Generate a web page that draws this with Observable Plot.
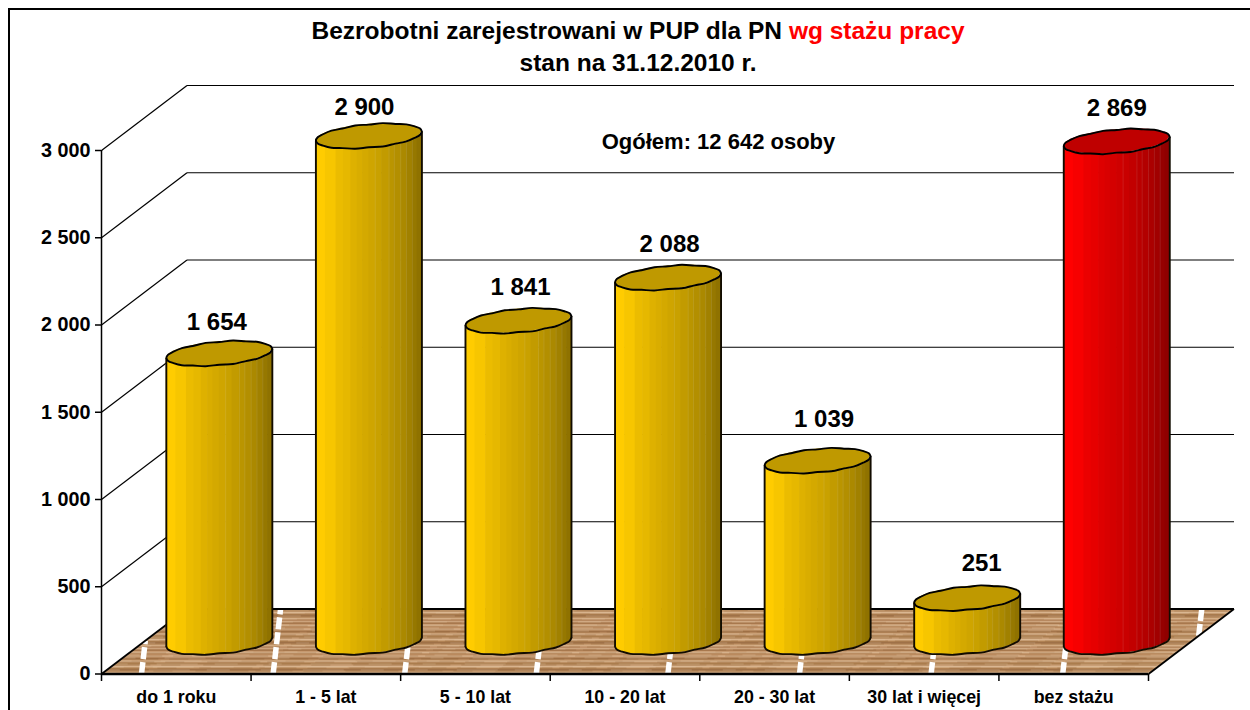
<!DOCTYPE html>
<html lang="pl">
<head>
<meta charset="utf-8">
<title>Bezrobotni zarejestrowani w PUP dla PN wg stażu pracy</title>
<script src="https://cdn.jsdelivr.net/npm/d3@7"></script>
<script src="https://cdn.jsdelivr.net/npm/@observablehq/plot@0.6"></script>
<style>
  html, body { margin: 0; padding: 0; background: #fff; overflow: hidden; }
  #page { position: relative; width: 1250px; height: 710px; font-family: "Liberation Sans", Arial, sans-serif; }
  #page svg { position: absolute; left: 0; top: 0; display: block; }
  #frame { position: absolute; left: 8px; top: 8px; right: -10px; bottom: -10px; border-left: 2.5px solid #000; border-top: 2.5px solid #000; }
  #title { position: absolute; left: 0; width: 1276px; top: 15px; text-align: center; font-weight: bold; font-size: 24.5px; line-height: 32px; color: #000; }
  #title .hl { color: #f00; }
</style>
</head>
<body>
<div id="page">
  <div id="chart"></div>
  <div id="frame"></div>
  <div id="title">Bezrobotni zarejestrowani w PUP dla PN <span class="hl">wg stażu pracy</span><br>stan na 31.12.2010 r.</div>
</div>
<script>
const categories = ["do 1 roku", "1 - 5 lat", "5 - 10 lat", "10 - 20 lat", "20 - 30 lat", "30 lat i więcej", "bez stażu"];
const values = [1654, 2900, 1841, 2088, 1039, 251, 2869];
const highlighted = ["bez stażu"];
const yTicks = [0, 500, 1000, 1500, 2000, 2500, 3000];
const totalNote = "Ogółem: 12 642 osoby";

// Style settings (not data)
const yellowBase = [255, 204, 0];
const redBase = [255, 0, 0];
const stripeEdges = [0, .09, .19, .26, .33, .39, .44, .50, .56, .62, .69, .74, .80, .855, .91, .955, 1];
const stripeShade = [1, .97, .92, .90, .87, .85, .83, .81, .79, .76, .73, .70, .67, .63, .59, .56];
const lightEdges = [.56, .69, .74, .80, .855, .91];
const woodTones = ["#b98558","#c5966a","#d2a87e","#bd8c5e","#a67444","#96643a","#b27f4c","#cca074","#d7b28a","#c09266","#b58454","#a1703c","#bf8f62","#cfa87f","#c39568","#ae7b4b","#9b693d","#b78659","#d2aa82","#c89a6e","#b07d4c","#c39567","#d7b28b","#bc8a5c","#a57245","#bb8b5e","#cda278"];
const labelNudgeX = [-2.5, -4.5, 2, 1.5, 6.5, 14.5, 0];
const labelNudgeY = [-31, -29, -33, -33, -41, -35, -33];
const rimBumps = [0, .35, -.4, .45, -.3, .4, -.45, .3, -.35, .45, -.25, .4, 0, .4, -.35, .35, -.45, .4, -.3, .45, -.35, .3, -.4, .35, 0];

// Geometry of the oblique 3-D box, in scale units
const pxX = (1148 - 101) / 7, pxY = (673.5 - 150) / 3000;
const depthX = 85.5 / pxX, depthV = 65 / pxY;
const baseV = 183, halfW = 53 / pxX, skewV = 4.5 / pxY, minorV = 11.7 / pxY;
const centerX = (i) => i + 0.5 + depthX / 2 + 0.002;
const edgeT = d3.range(0, 25).map((k) => (k / 24) * 2 * Math.PI);

const shade = (rgb, f) => `rgb(${rgb.map((c) => Math.round(c * f)).join(",")})`;
const baseOf = (c) => (highlighted.includes(c) ? redBase : yellowBase);
const lowerV = (i, level, x) => {
  const u = Math.max(-1, Math.min(1, (x - centerX(i)) / halfW));
  return level + skewV * u - minorV * Math.sqrt(1 - u * u);
};
const upperV = (i, level, x) => {
  const u = Math.max(-1, Math.min(1, (x - centerX(i)) / halfW));
  return level + skewV * u + minorV * Math.sqrt(1 - u * u);
};
const rimV = (level, t, k) => level + skewV * Math.cos(t) - (minorV + rimBumps[k] / pxY) * Math.sin(t);

const stripes = [], tops = [], edges = [], rims = [], baseArcs = [], sides = [];
values.forEach((v, i) => {
  const c = categories[i], top = v + baseV, left = centerX(i) - halfW;
  stripeShade.forEach((f, s) => {
    const x0 = left + 2 * halfW * stripeEdges[s], x1 = left + 2 * halfW * stripeEdges[s + 1] + 0.7 / pxX;
    d3.range(0, 5).forEach((k) => {
      const x = x0 + ((x1 - x0) * k) / 4;
      stripes.push({ x, y1: lowerV(i, top, x), y2: lowerV(i, baseV, x), z: `${i}-${s}`, fill: shade(baseOf(c), f) });
    });
  });
  lightEdges.forEach((e) => {
    const x = left + 2 * halfW * e;
    edges.push({ x, y1: lowerV(i, top, x), y2: lowerV(i, baseV, x) });
  });
  d3.range(0, 41).forEach((k) => {
    const x = left + (2 * halfW * k) / 40;
    tops.push({ x, y1: lowerV(i, top, x), y2: upperV(i, top, x), z: i, fill: shade(baseOf(c), 0.75) });
  });
  edgeT.forEach((t, k) => {
    rims.push({ x: centerX(i) + halfW * Math.cos(t), y: rimV(top, t, k), z: i });
  });
  // front of the base and the two straight body edges
  edgeT.slice(0, 13).forEach((t, k) => {
    baseArcs.push({ x: centerX(i) + halfW * Math.cos(t), y: rimV(baseV, t, k), z: i });
  });
  sides.push({ x: centerX(i) - halfW, y1: baseV - skewV, y2: top - skewV });
  sides.push({ x: centerX(i) + halfW, y1: baseV + skewV, y2: top + skewV });
});

const floorRows = d3.range(0, 66).map((k) => {
  const w = k / 65;
  return { k, w, x1: depthX * w, x2: 7 + depthX * w, y: w * depthV, c: woodTones[k % woodTones.length] };
});
const slope = 0.05;
const floorDashes = d3.range(0, 9).map((k) => {
  const xb = (141 - 101 + 131.6 * k) / pxX;
  const wMax = Math.min(1, xb / (depthX - slope));
  const wMin = Math.max(0, (xb - 7) / (depthX - slope));
  return { x1: xb + slope * wMin, y1: wMin * depthV, x2: xb + slope * wMax, y2: wMax * depthV };
});
const gridRows = yTicks.map((v) => ({ v }));

const chart = Plot.plot({
  width: 1250,
  height: 710,
  marginLeft: 101,
  marginRight: 102,
  marginTop: 0,
  marginBottom: 36,
  style: { background: "transparent", fontFamily: "'Liberation Sans', Arial, sans-serif" },
  x: { domain: [0, 7], range: [101, 1148], axis: null },
  y: { domain: [0, 3000], range: [673.5, 150], axis: null },
  color: { type: "identity" },
  marks: [
    // back-wall gridlines and side-wall diagonals
    Plot.link(gridRows.slice(1), { x1: depthX, x2: 7 + depthX, y1: (d) => d.v + depthV, y2: (d) => d.v + depthV, stroke: "#000", strokeWidth: 1.2 }),
    Plot.link(gridRows.slice(1), { x1: 0, x2: depthX, y1: (d) => d.v, y2: (d) => d.v + depthV, stroke: "#000", strokeWidth: 1.2 }),
    // wooden floor
    Plot.link(floorRows, { x1: "x1", x2: "x2", y1: "y", y2: "y", stroke: "c", strokeWidth: 1.4 }),
    Plot.link(floorRows.filter((d) => d.k % 3 === 0), { x1: "x1", x2: "x2", y1: "y", y2: "y", stroke: "#7d4f28", strokeOpacity: 0.28, strokeWidth: 1, strokeDasharray: "37 11 19 23 53 7" }),
    Plot.link(floorRows.filter((d) => d.k % 3 === 1), { x1: "x1", x2: "x2", y1: "y", y2: "y", stroke: "#ecd0ae", strokeOpacity: 0.3, strokeWidth: 1, strokeDasharray: "13 29 41 17 23 31" }),
    Plot.link(floorDashes, { x1: "x1", y1: "y1", x2: "x2", y2: "y2", stroke: "#fff", strokeWidth: 5.5, strokeDasharray: "12 3" }),
    Plot.link([{ v: 0 }], { x1: depthX, x2: 7 + depthX, y1: depthV, y2: depthV, stroke: "#000", strokeWidth: 1.8 }),
    Plot.link([{ v: 0 }], { x1: 0, x2: depthX, y1: 0, y2: depthV, stroke: "#000", strokeWidth: 1.8 }),
    Plot.link([{ v: 0 }], { x1: 7, x2: 7 + depthX, y1: 0, y2: depthV, stroke: "#000", strokeWidth: 1.8 }),
    // cylinders
    Plot.areaY(stripes, { x: "x", y1: "y1", y2: "y2", z: "z", fill: "fill" }),
    Plot.link(edges, { x1: "x", x2: "x", y1: "y1", y2: "y2", stroke: "#fff", strokeOpacity: 0.1, strokeWidth: 1 }),
    Plot.areaY(tops, { x: "x", y1: "y1", y2: "y2", z: "z", fill: "fill" }),
    Plot.link(sides, { x1: "x", x2: "x", y1: "y1", y2: "y2", stroke: "#120c00", strokeWidth: 1.9 }),
    Plot.line(baseArcs, { x: "x", y: "y", z: "z", stroke: "#120c00", strokeWidth: 1.9, curve: "catmull-rom" }),
    Plot.line(rims, { x: "x", y: "y", z: "z", stroke: "#000", strokeWidth: 1.9, curve: "catmull-rom" }),
    // axes
    Plot.ruleX([0], { y1: 0, y2: 3000, stroke: "#000", strokeWidth: 1.5 }),
    Plot.ruleY([0], { x1: 0, x2: 7, stroke: "#000", strokeWidth: 2.4 }),
    Plot.axisY({ ticks: yTicks, tickSize: 6, tickPadding: 5, tickFormat: (d) => d3.format(",")(d).replace(/,/g, " "), label: null, fontSize: 19.8, fontWeight: "bold", color: "#000", stroke: "#000", strokeWidth: 1.5 }),
    Plot.axisX({ ticks: d3.range(0, 8), tickSize: 7, tickFormat: () => "", label: null, stroke: "#000", strokeWidth: 1.5 }),
    Plot.axisX({ ticks: d3.range(0, 7).map((i) => i + 0.5), tickSize: 0, tickPadding: 16, tickFormat: (d) => categories[d - 0.5], label: null, fontSize: 17.8, fontWeight: "bold", color: "#000" }),
    // labels
    Plot.text(values, {
      x: (v, i) => centerX(i) + labelNudgeX[i] / pxX,
      y: (v, i) => v + baseV - labelNudgeY[i] / pxY,
      text: (v) => d3.format(",")(v).replace(/,/g, " "),
      fontSize: 24, fontWeight: "bold", fill: "#000", lineAnchor: "middle"
    }),
    Plot.text([totalNote], { x: (718 - 101) / pxX, y: (673.5 - 141) / pxY, text: (d) => d, fontSize: 22, fontWeight: "bold", fill: "#000", lineAnchor: "middle" })
  ]
});
document.getElementById("chart").appendChild(chart);
</script>
</body>
</html>
